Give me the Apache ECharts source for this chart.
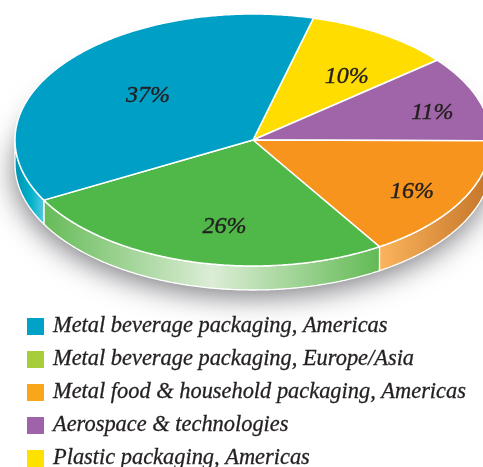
<!DOCTYPE html>
<html>
<head>
<meta charset="utf-8">
<style>
  html, body { margin: 0; padding: 0; background: #fff; overflow: hidden; }
  #chart { width: 483px; height: 467px; }
</style>
<script src="https://cdn.jsdelivr.net/npm/echarts@6/dist/echarts.min.js"></script>
</head>
<body>
<div id="chart"></div>
<script>
// data
const categories = [
  "Metal beverage packaging, Americas",
  "Metal beverage packaging, Europe/Asia",
  "Metal food & household packaging, Americas",
  "Aerospace & technologies",
  "Plastic packaging, Americas"
];
const shares = [37, 26, 16, 11, 10];

// colours: the legend swatches are not quite the slice colours
const sliceColors = ["#00a0c6", "#50b848", "#f7941e", "#a065a8", "#ffdd00"];
const legendColors = ["#00a3c7", "#a6ce39", "#faa61a", "#9e63a9", "#ffe100"];
const wallStops = [
  [[0, "#0090b0"], [0.55, "#00b2c9"], [1, "#5cc8e2"]],
  [[0, "#66bb58"], [0.5, "#dcedd6"], [1, "#62ba54"]],
  [[0, "#fbb45c"], [1, "#c47428"]]
];

// layout
const CX = 253, CY = 140, RX = 238, RY = 126, DEPTH = 24;
const START_ANGLE = 14.7; // degrees clockwise from the top, slices run anticlockwise
const LABEL_FRACTIONS = [[0.56, 0.575], [0.47, 0.71], [0.765, 0.85], [0.8, 0.64], [0.73, 0.6]];

const total = shares.reduce((a, b) => a + b, 0);

function px(deg) { return CX + RX * Math.sin(deg * Math.PI / 180); }
function py(deg) { return CY - RY * Math.cos(deg * Math.PI / 180); }

function arcPoints(from, to, dy) {
  const pts = [];
  const steps = Math.max(2, Math.ceil(Math.abs(to - from) * 2));
  for (let i = 0; i <= steps; i++) {
    const a = from + (to - from) * i / steps;
    pts.push([px(a), py(a) + dy]);
  }
  return pts;
}

function sliceRange(idx) {
  const before = shares.slice(0, idx).reduce((a, b) => a + b, 0);
  const end = START_ANGLE - before / total * 360;
  return [end - shares[idx] / total * 360, end];
}

function renderSlice(idx) {
  const [a0, a1] = sliceRange(idx);
  const children = [];

  // side wall, only the part of the rim that faces the viewer
  const lo = Math.max(a0, -270), hi = Math.min(a1, -90);
  if (hi > lo && idx < wallStops.length) {
    const top = arcPoints(lo, hi, 0);
    const bottom = arcPoints(hi, lo, DEPTH);
    children.push({
      type: "polygon",
      shape: { points: top.concat(bottom) },
      style: {
        fill: new echarts.graphic.LinearGradient(0, 0, 1, 0, wallStops[idx].map(s => ({ offset: s[0], color: s[1] }))),
        stroke: "#fff", lineWidth: 1.3
      }
    });
  }

  // top face
  children.push({
    type: "polygon",
    shape: { points: [[CX, CY]].concat(arcPoints(a0, a1, 0)) },
    style: { fill: sliceColors[idx], stroke: "#fff", lineWidth: 1.5 }
  });

  // percent label
  const mid = (a0 + a1) / 2 * Math.PI / 180;
  const f = LABEL_FRACTIONS[idx];
  children.push({
    type: "text",
    z2: 10,
    style: {
      x: CX + RX * f[0] * Math.sin(mid),
      y: CY - RY * f[1] * Math.cos(mid),
      text: shares[idx] + "%",
      align: "center", verticalAlign: "middle",
      fill: "#231f20",
      stroke: "#231f20", lineWidth: 0.4,
      font: "italic 24px 'Liberation Serif', serif"
    }
  });
  return { type: "group", children };
}

const chart = echarts.init(document.getElementById("chart"), null, { renderer: "canvas" });

chart.setOption({
  backgroundColor: "#fff",
  animation: false,
  graphic: [{
    type: "ellipse",
    z: 0,
    silent: true,
    shape: { cx: CX, cy: CY + DEPTH, rx: RX, ry: RY },
    style: { fill: "#fff", shadowBlur: 28, shadowColor: "rgba(40,40,50,0.6)", shadowOffsetY: 7, shadowOffsetX: -1 }
  }],
  legend: {
    orient: "vertical",
    left: 27,
    top: 314,
    height: 180,
    padding: 0,
    itemWidth: 17,
    itemHeight: 17,
    itemGap: 8,
    icon: "rect",
    selectedMode: false,
    data: categories,
    textStyle: {
      color: "#231f20",
      fontFamily: "Liberation Serif, serif",
      fontStyle: "italic",
      fontSize: 22.4,
      lineHeight: 23,
      padding: [2, 0, 0, 4],
      textBorderColor: "#231f20",
      textBorderWidth: 0.3
    }
  },
  series: categories.map((name, i) => ({
    name,
    type: "custom",
    coordinateSystem: "none",
    z: 2 + (categories.length - i),
    silent: true,
    itemStyle: { color: legendColors[i] },
    data: [[shares[i]]],
    renderItem: () => renderSlice(i)
  }))
});
</script>
</body>
</html>
